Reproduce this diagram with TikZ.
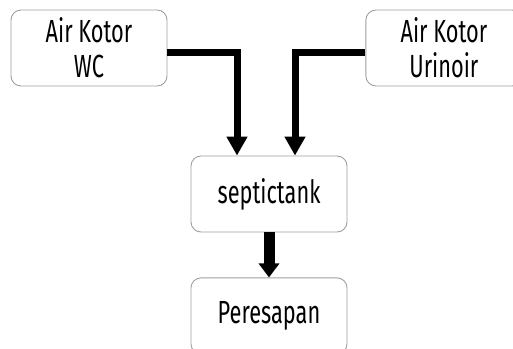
\documentclass[tikz,border=0pt]{standalone}
\usepackage{fontspec}
\setmainfont{Fira Sans}[FakeStretch=0.68]
\usetikzlibrary{arrows.meta,positioning}

\tikzset{
  box/.style={draw=gray!75, line width=0.9pt, rounded corners=10pt,
    minimum width=156pt, minimum height=76pt, align=center,
    font=\fontsize{32}{35}\selectfont},
  flow/.style={line width=7pt, -{Triangle[width=20pt,length=19pt]}},
}

\begin{document}
\begin{tikzpicture}[x=1pt,y=-1pt]
  \useasboundingbox (0,0) rectangle (513,348);
  \node[box] (wc)   at (89,48)            {Air Kotor\\WC};
  \node[box] (uri)  [right=198pt of wc]   {Air Kotor\\Urinoir};
  \node[box] (tank) at (269,194)          {septictank};
  \node[box] (resap) [below=45pt of tank] {Peresapan};

  \draw[flow] ([yshift=-4pt]wc.east)  -| ([xshift=-32pt]tank.north);
  \draw[flow] ([yshift=-4pt]uri.west) -| ([xshift=26pt]tank.north);
  \draw[flow, line width=11pt, -{Triangle[width=20pt,length=14pt]}]
    (tank) -- (resap);
\end{tikzpicture}
\end{document}
